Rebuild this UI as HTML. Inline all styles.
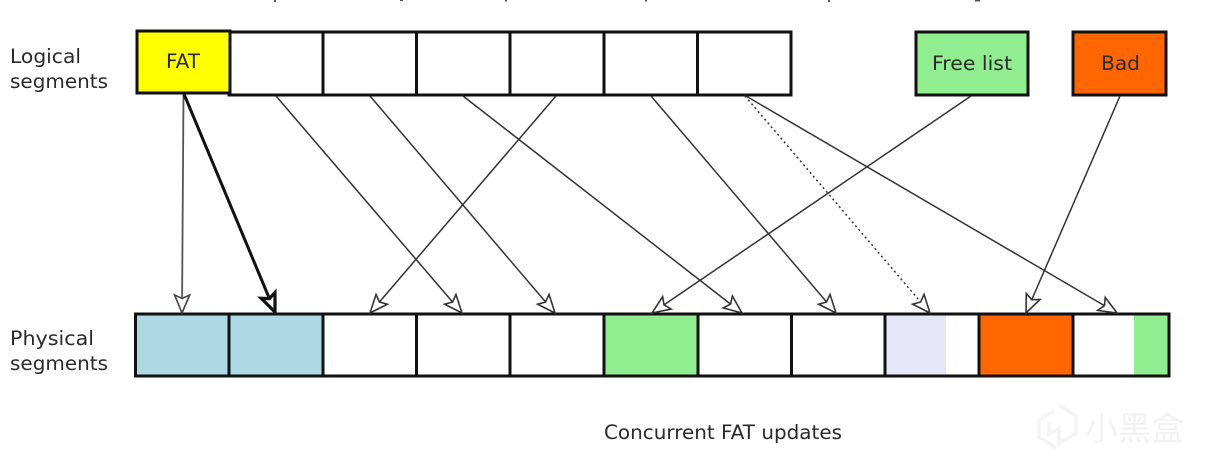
<!DOCTYPE html>
<html><head><meta charset="utf-8"><style>
html,body{margin:0;padding:0;background:#fff;width:1219px;height:464px;overflow:hidden}
svg{display:block}
text{font-family:"DejaVu Sans","Liberation Sans",sans-serif;font-size:19.5px;fill:#2a2a2a}
</style></head><body>
<svg width="1219" height="464" viewBox="0 0 1219 464">
<defs>
<marker id="a" markerUnits="userSpaceOnUse" viewBox="-20 -10 22 20" refX="0" refY="0" markerWidth="22" markerHeight="20" orient="auto"><path d="M0,0 L-18,-7.5 L-14.5,0 L-18,7.5 Z" fill="#fff" stroke="#333" stroke-width="1.6" stroke-linejoin="miter"/></marker>
<marker id="b" markerUnits="userSpaceOnUse" viewBox="-22 -11 24 22" refX="0" refY="0" markerWidth="24" markerHeight="22" orient="auto"><path d="M0,0 L-18,-7.5 L-14.5,0 L-18,7.5 Z" fill="#fff" stroke="#111" stroke-width="3.2"/></marker>
<marker id="g" markerUnits="userSpaceOnUse" viewBox="-20 -10 22 20" refX="0" refY="0" markerWidth="22" markerHeight="20" orient="auto"><path d="M0,0 L-18,-7.5 L-14.5,0 L-18,7.5 Z" fill="#fff" stroke="#444" stroke-width="1.6"/></marker>
</defs>

<!-- top clipped fragments -->
<g fill="#555"><rect x="274" y="0" width="2" height="2"/><rect x="400" y="0" width="3" height="1"/><rect x="505" y="0" width="2" height="1.500"/><rect x="645" y="0" width="2" height="1.500"/><rect x="828" y="0" width="2" height="2"/><rect x="975" y="0" width="5" height="1.500"/></g>

<!-- Physical fills -->
<rect x="136" y="315" width="186" height="60" fill="#add8e6"/>
<rect x="604" y="315" width="94" height="60" fill="#90ee90"/>
<rect x="885" y="315" width="61" height="60" fill="#e6e6fa"/>
<rect x="979" y="315" width="94" height="60" fill="#ff6600"/>
<rect x="1134" y="315" width="35" height="60" fill="#90ee90"/>
<!-- Physical outline -->
<g fill="none" stroke="#111" stroke-width="3">
<rect x="135.500" y="314" width="1033.500" height="62"/>
<path d="M229 314V376M323 314V376M416.500 314V376M510 314V376M604 314V376M698 314V376M791.500 314V376M885 314V376M979 314V376M1073 314V376"/>
</g>

<!-- Logical -->
<g fill="none" stroke="#111" stroke-width="3">
<rect x="229" y="32" width="562" height="63" fill="#fff"/>
<path d="M323 32V95M416.500 32V95M510 32V95M604 32V95M697.500 32V95"/>
</g>
<rect x="137" y="31" width="93" height="62" fill="#ffff00" stroke="#111" stroke-width="3"/>
<rect x="916" y="32" width="112" height="63" fill="#90ee90" stroke="#111" stroke-width="3"/>
<rect x="1073" y="32" width="93" height="63" fill="#ff6600" stroke="#111" stroke-width="3"/>

<!-- Connectors -->
<g fill="none" stroke="#333" stroke-width="1.500">
<line x1="183.500" y1="94" x2="182" y2="313" stroke="#555" stroke-width="1.800" marker-end="url(#g)"/>
<line x1="276" y1="96" x2="462" y2="313" marker-end="url(#a)"/>
<line x1="370" y1="96" x2="555" y2="313" marker-end="url(#a)"/>
<line x1="463" y1="96" x2="742" y2="313" marker-end="url(#a)"/>
<line x1="556" y1="96" x2="370" y2="313" marker-end="url(#a)"/>
<line x1="651" y1="96" x2="836" y2="313" marker-end="url(#a)"/>
<line x1="746" y1="96" x2="1117" y2="313" marker-end="url(#a)"/>
<line x1="971" y1="96" x2="652" y2="313" marker-end="url(#a)"/>
<line x1="1120" y1="96" x2="1026" y2="313" marker-end="url(#a)"/>
<line x1="745" y1="96" x2="930" y2="313" stroke-dasharray="2 3" marker-end="url(#a)"/>
<line x1="184" y1="94" x2="275" y2="312" stroke="#111" stroke-width="3" marker-end="url(#b)"/>
</g>

<!-- Labels -->
<text x="10" y="63" textLength="71" lengthAdjust="spacingAndGlyphs">Logical</text>
<text x="10" y="88" textLength="98" lengthAdjust="spacingAndGlyphs">segments</text>
<text x="10" y="345" textLength="84" lengthAdjust="spacingAndGlyphs">Physical</text>
<text x="10" y="370" textLength="98" lengthAdjust="spacingAndGlyphs">segments</text>
<text x="166" y="68" textLength="34" lengthAdjust="spacingAndGlyphs">FAT</text>
<text x="932" y="70" textLength="80" lengthAdjust="spacingAndGlyphs">Free list</text>
<text x="1101" y="70" textLength="39" lengthAdjust="spacingAndGlyphs">Bad</text>
<text x="604" y="439" textLength="238" lengthAdjust="spacingAndGlyphs">Concurrent FAT updates</text>

<!-- Watermark -->
<g fill="none" stroke="#f4f4f4" stroke-width="3.500"><path d="M1054 411L1039 420V437L1056 448M1059 405L1076 416V433L1059 444V428L1049 434V422"/></g>
<text x="1085" y="440" style="font-family:'Noto Sans CJK SC',sans-serif;font-size:33px;fill:#f2f2f2" textLength="99" lengthAdjust="spacingAndGlyphs">小黑盒</text>
</svg>
</body></html>
